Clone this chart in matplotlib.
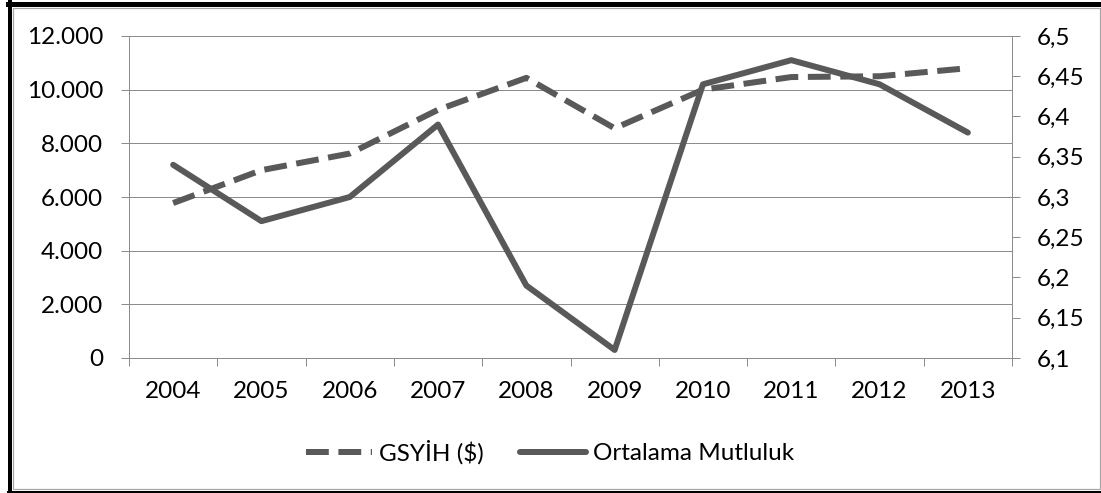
import matplotlib
matplotlib.use("Agg")
import matplotlib.pyplot as plt
from matplotlib.ticker import FuncFormatter, FixedLocator
from matplotlib.lines import Line2D
from matplotlib.patches import Rectangle

years = ["2004", "2005", "2006", "2007", "2008", "2009", "2010", "2011", "2012", "2013"]
gsyih = [5775, 7000, 7620, 9250, 10440, 8560, 10000, 10470, 10500, 10800]
mutluluk = [6.34, 6.27, 6.30, 6.39, 6.19, 6.11, 6.44, 6.47, 6.44, 6.38]
left_ticks = [0, 2000, 4000, 6000, 8000, 10000, 12000]
right_ticks = [6.1, 6.15, 6.2, 6.25, 6.3, 6.35, 6.4, 6.45, 6.5]
labels = ["GSYİH ($)", "Ortalama Mutluluk"]

plt.rcParams['font.family'] = ['Lato', 'DejaVu Sans']
FS = 17.5
LC = '#595959'
GRID = '#8c8c8c'
DPI = 100
W, H = 1101, 493
px = 72.0 / DPI

fig = plt.figure(figsize=(W / DPI, H / DPI), dpi=DPI)
ax = fig.add_axes([129 / W, 1 - 358 / H, (1012 - 129) / W, (358 - 36) / H])
ax2 = ax.twinx()

x = list(range(len(years)))
lw = 6 * px
ax.plot(x, gsyih, color=LC, lw=lw, dashes=(3.8, 1.6), dash_capstyle='butt',
        dash_joinstyle='round', zorder=3)
ax2.plot(x, mutluluk, color=LC, lw=lw, solid_capstyle='round',
         solid_joinstyle='round', zorder=3)

ax.set_xlim(-0.5, len(years) - 0.5)
ax.set_ylim(0, 12000)
ax2.set_ylim(6.1, 6.5)

ax.yaxis.set_major_locator(FixedLocator(left_ticks))
ax2.yaxis.set_major_locator(FixedLocator(right_ticks))
ax.yaxis.set_major_formatter(FuncFormatter(lambda v, p: f"{int(round(v)):,}".replace(",", ".")))
def rfmt(v, p):
    s = f"{v:.2f}".rstrip('0').rstrip('.')
    return s.replace('.', ',')
ax2.yaxis.set_major_formatter(FuncFormatter(rfmt))

ax.set_xticks(x)
ax.set_xticklabels(years)
ax.set_xticks([i - 0.5 for i in range(len(years) + 1)], minor=True)
ax.tick_params(axis='x', which='major', length=0, pad=16.5, labelsize=FS, colors='black')
ax.tick_params(axis='x', which='minor', length=8 * px, width=1 * px, color=GRID, direction='out')
ax.tick_params(axis='y', which='major', length=8 * px, width=1 * px, color=GRID, pad=13, labelsize=FS, labelcolor='black')
ax2.tick_params(axis='y', which='major', length=8 * px, width=1 * px, color=GRID, pad=12, labelsize=FS, labelcolor='black')

ax.grid(axis='y', color=GRID, lw=1 * px)
ax.set_axisbelow(True)
for a in (ax, ax2):
    a.spines['top'].set_visible(False)
    for s in ('left', 'right', 'bottom'):
        a.spines[s].set_color(GRID)
        a.spines[s].set_linewidth(1 * px)

handles = [Line2D([], [], color=LC, lw=lw, dashes=(3.8, 1.6), dash_capstyle='butt'),
           Line2D([], [], color=LC, lw=lw, solid_capstyle='round')]
fig.legend(handles, labels, loc='center', bbox_to_anchor=(550 / W, 1 - 452 / H),
           ncol=2, frameon=False, fontsize=FS, handlelength=2.7, handletextpad=0.3,
           columnspacing=1.5)

# outer frame
fig.add_artist(Rectangle((12.5 / W, 1 - 488.5 / H), (1099.5 - 12.5) / W, (488.5 - 7.5) / H,
                         transform=fig.transFigure, fill=False, edgecolor='#a6a6a6', lw=1.2 * px))
fig.add_artist(Line2D([8 / W, 1.0], [1 - 4 / H, 1 - 4 / H], transform=fig.transFigure, color='black', lw=5 * px))
fig.add_artist(Line2D([10 / W, 10 / W], [1 - 2 / H, 1 - 492 / H], transform=fig.transFigure, color='black', lw=4 * px))
fig.add_artist(Line2D([8 / W, 1.0], [1 - 491.5 / H, 1 - 491.5 / H], transform=fig.transFigure, color='black', lw=3 * px))

fig.savefig("out.png", dpi=DPI)
